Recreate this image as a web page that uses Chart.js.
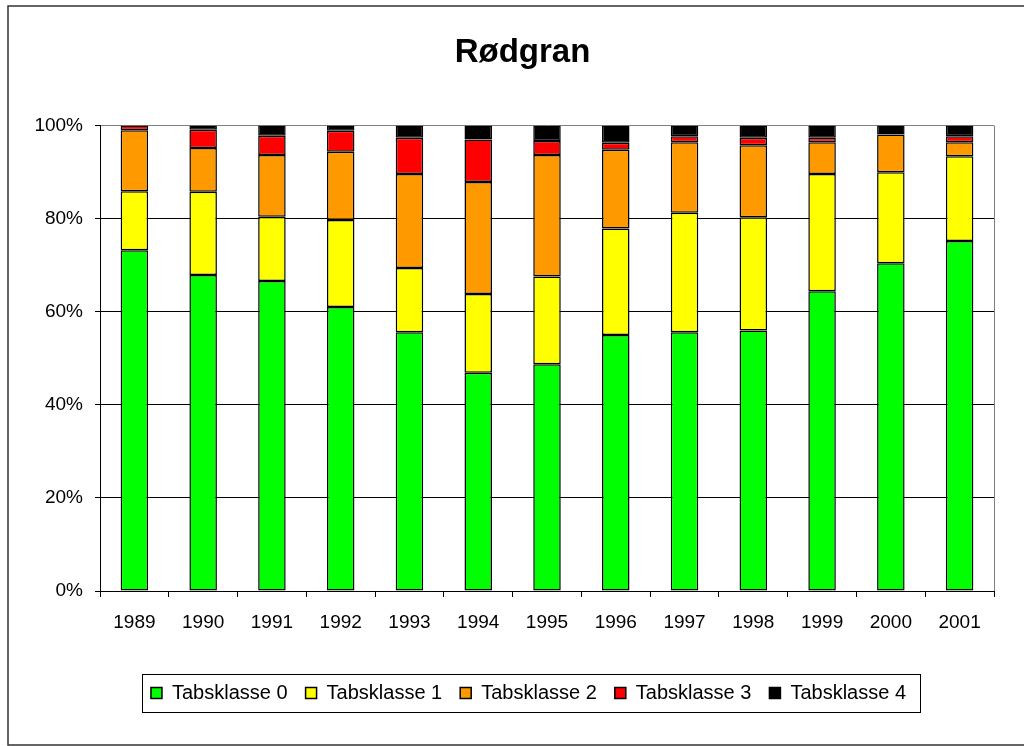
<!DOCTYPE html>
<html>
<head>
<meta charset="utf-8">
<script src="https://cdn.jsdelivr.net/npm/chart.js@4"></script>
<style>
    body { margin: 0; overflow: hidden; background: #fff; }
    #wrap { position: relative; width: 1045px; height: 746px; }
</style>
</head>
<body>
<div id="wrap"><canvas id="myChart"></canvas></div>
<script>
let years = ['1989', '1990', '1991', '1992', '1993', '1994', '1995', '1996', '1997', '1998', '1999', '2000', '2001'];

// percent of trees in each damage class (Tabsklasse)
let klasse0 = [73.2, 67.9, 66.6, 61.0, 55.6, 46.9, 48.7, 55.0, 55.6, 56.0, 64.4, 70.4, 75.2];
let klasse1 = [12.7, 17.9, 13.8, 18.7, 13.8, 16.9, 18.9, 22.9, 25.7, 24.3, 25.2, 19.6, 18.2];
let klasse2 = [13.1, 9.4, 13.3, 14.7, 20.2, 24.1, 26.1, 16.9, 15.1, 15.5, 6.8, 8.1, 3.0];
let klasse3 = [1.0, 3.9, 4.1, 4.5, 7.8, 9.1, 3.0, 1.5, 1.3, 1.6, 1.0, 0, 1.3];
let klasse4 = [0, 0.9, 2.2, 1.1, 2.6, 3.0, 3.3, 3.7, 2.3, 2.6, 2.6, 1.9, 2.3];

let yTicks = [0, 20, 40, 60, 80, 100];

const fontFamily = "'Liberation Sans', Arial, sans-serif";
Chart.defaults.font.family = fontFamily;
Chart.defaults.color = '#000';

// width of the widest y label, so the mirrored labels can sit right-aligned left of the axis
let meas = document.createElement('canvas').getContext('2d');
meas.font = '19px ' + fontFamily;
let widest = Math.max(...yTicks.map(v => meas.measureText(v + '%').width));

// outer frame, plot frame and the box round the legend
const frames = {
    id: 'frames',
    beforeDraw: function(chart){
        let c = chart.ctx;
        c.save();
        c.fillStyle = '#fff';
        c.fillRect(0, 0, chart.width, chart.height);
        c.restore();
    },
    afterDraw: function(chart){
        let c = chart.ctx, a = chart.chartArea;
        c.save();
        c.lineWidth = 1;
        c.strokeStyle = '#808080';
        c.beginPath();
        c.moveTo(Math.round(a.right) + 0.5, a.top);
        c.lineTo(Math.round(a.right) + 0.5, a.bottom);
        c.stroke();

        c.strokeStyle = '#333';
        c.lineWidth = 1.5;
        c.strokeRect(8, 6, chart.width - 16, 739);

        let hb = chart.legend.legendHitBoxes;
        let first = hb[0], last = hb[hb.length - 1];
        let mid = first.top + first.height / 2;
        c.lineWidth = 1;
        c.strokeStyle = '#000';
        c.strokeRect(Math.round(first.left - 9) + 0.5, Math.round(mid - 19) + 0.5,
            Math.round(last.left + last.width + 14 - (first.left - 9)), 38);
        c.restore();
    }
};

const nudgeLegend = {
    id: 'nudgeLegend',
    afterLayout: function(chart){
        chart.legend.left += 6;
        chart.legend.right += 6;
    }
};

const ctx = document.getElementById('myChart').getContext('2d');

const myChart = new Chart(ctx, {
    type: 'bar',
    data: {
        labels: years,
        datasets: [
            { label: 'Tabsklasse 0', data: klasse0, backgroundColor: '#00FF00' },
            { label: 'Tabsklasse 1', data: klasse1, backgroundColor: '#FFFF00' },
            { label: 'Tabsklasse 2', data: klasse2, backgroundColor: '#FF9900' },
            { label: 'Tabsklasse 3', data: klasse3, backgroundColor: '#FF0000' },
            { label: 'Tabsklasse 4', data: klasse4, backgroundColor: '#000000' }
        ].map(d => Object.assign(d, {
            borderColor: '#000',
            borderWidth: 1.5,
            borderSkipped: false,
            categoryPercentage: 1,
            barPercentage: 0.4
        }))
    },
    options: {
        responsive: true,
        maintainAspectRatio: false,
        animation: false,
        layout: { padding: { left: 51, right: 51, top: 0, bottom: 33 } },
        plugins: {
            title: {
                display: true,
                text: 'Rødgran',
                color: '#000',
                font: { size: 33, weight: 'bold' },
                padding: { top: 33, bottom: 53 }
            },
            legend: {
                position: 'bottom',
                labels: {
                    boxWidth: 11,
                    boxHeight: 11,
                    padding: 18,
                    color: '#000',
                    font: { size: 20 }
                }
            },
            tooltip: { enabled: false }
        },
        scales: {
            x: {
                stacked: true,
                grid: {
                    drawOnChartArea: false,
                    drawTicks: true,
                    tickLength: 6,
                    color: '#000',
                    offset: true
                },
                border: { color: '#000' },
                ticks: { padding: 14, font: { size: 19 }, color: '#000', maxRotation: 0 },
                afterFit: function(scale){ scale.height = 74; }
            },
            y: {
                stacked: true,
                min: 0,
                max: 100,
                afterBuildTicks: function(scale){ scale.ticks = yTicks.map(v => ({ value: v })); },
                grid: {
                    color: (c) => c.tick && c.tick.value === 100 ? '#808080' : '#000',
                    tickColor: '#000',
                    tickLength: 5
                },
                border: { color: '#000' },
                ticks: {
                    mirror: true,
                    crossAlign: 'far',
                    padding: -17 - widest,
                    font: { size: 19 },
                    color: '#000',
                    callback: function(v){ return v + '%'; }
                },
                afterFit: function(scale){ scale.width = 49; }
            }
        }
    },
    plugins: [frames, nudgeLegend]
});
</script>
</body>
</html>
